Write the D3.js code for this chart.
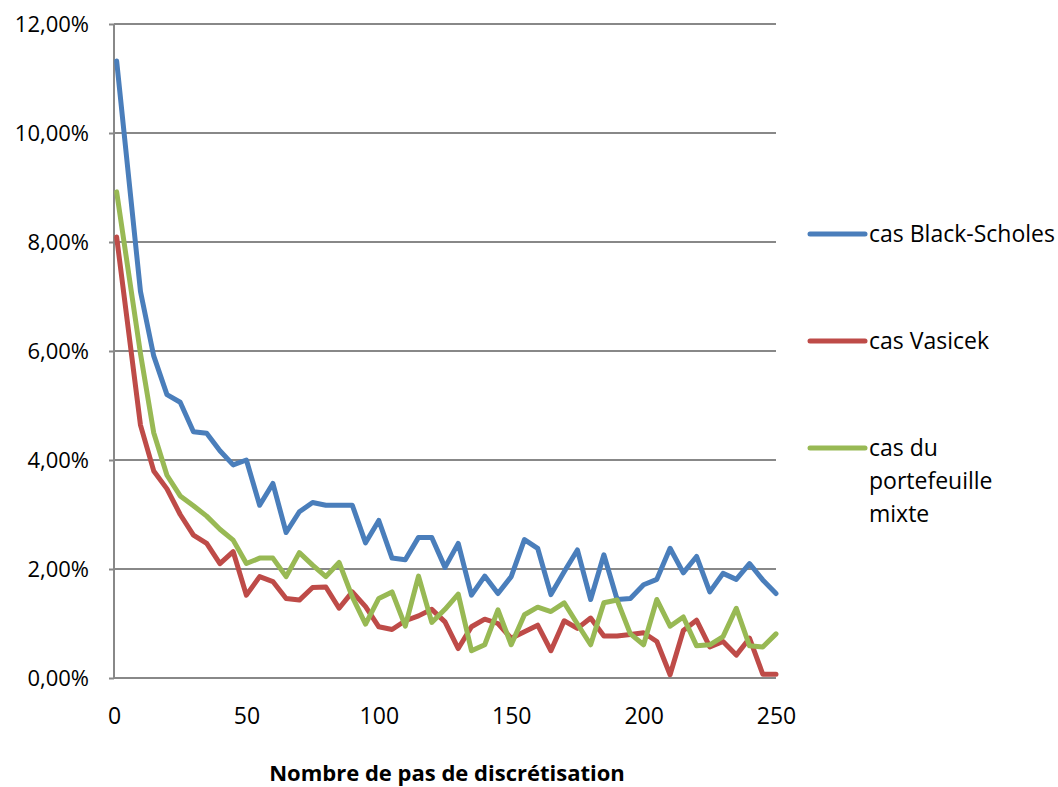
<!doctype html>
<html lang="fr">
<head>
	<meta charset="UTF-8">
	<title>Nombre de pas de discrétisation</title>
	<script src="https://cdn.jsdelivr.net/npm/d3@7"></script>
	<style>
		body { margin: 0; background: #fff; }
		text { font-family: "Open Sans", sans-serif; fill: #000; }
	</style>
</head>
<body>
<div id="container"></div>
<script>
	var width = 1058, height = 787;

	// pas de discrétisation (axe x)
	var steps = [1, 10, 15, 20, 25, 30, 35, 40, 45, 50,
		55, 60, 65, 70, 75, 80, 85, 90, 95, 100,
		105, 110, 115, 120, 125, 130, 135, 140, 145, 150,
		155, 160, 165, 170, 175, 180, 185, 190, 195, 200,
		205, 210, 215, 220, 225, 230, 235, 240, 245, 250];

	// erreurs en %
	var blackScholes = [11.32, 7.09, 5.91, 5.20, 5.06, 4.52, 4.49, 4.17, 3.91, 4.00,
		3.17, 3.57, 2.67, 3.05, 3.22, 3.17, 3.17, 3.17, 2.48, 2.89,
		2.20, 2.17, 2.58, 2.58, 2.03, 2.47, 1.52, 1.87, 1.55, 1.86,
		2.54, 2.38, 1.53, 1.95, 2.35, 1.44, 2.26, 1.44, 1.46, 1.71,
		1.81, 2.38, 1.93, 2.23, 1.58, 1.92, 1.81, 2.10, 1.80, 1.55];
	var vasicek = [8.09, 4.64, 3.80, 3.47, 3.00, 2.62, 2.47, 2.10, 2.32, 1.52,
		1.86, 1.77, 1.46, 1.43, 1.66, 1.67, 1.28, 1.58, 1.31, 0.94,
		0.89, 1.05, 1.14, 1.26, 1.03, 0.54, 0.94, 1.08, 1.00, 0.73,
		0.85, 0.97, 0.50, 1.05, 0.91, 1.10, 0.77, 0.77, 0.80, 0.83,
		0.67, 0.06, 0.87, 1.06, 0.57, 0.67, 0.42, 0.73, 0.07, 0.07];
	var mixte = [8.92, 5.95, 4.50, 3.72, 3.34, 3.16, 2.97, 2.73, 2.53, 2.10,
		2.20, 2.20, 1.86, 2.30, 2.07, 1.86, 2.12, 1.49, 0.99, 1.46,
		1.58, 0.95, 1.87, 1.02, 1.26, 1.54, 0.50, 0.61, 1.25, 0.61,
		1.16, 1.30, 1.22, 1.38, 0.99, 0.61, 1.38, 1.43, 0.81, 0.61,
		1.44, 0.95, 1.12, 0.59, 0.61, 0.76, 1.28, 0.59, 0.57, 0.81];

	var seriesNames = ["cas Black-Scholes", "cas Vasicek", "cas du portefeuille mixte"];
	var seriesColors = ["#4a7ebb", "#be4b48", "#98b954"];
	var xTicks = [0, 50, 100, 150, 200, 250];
	var yTicks = [0, 2, 4, 6, 8, 10, 12];
	var xTitle = "Nombre de pas de discrétisation";

	var series = [blackScholes, vasicek, mixte];

	var margin = {left: 114, top: 24, right: 282, bottom: 109};
	var g_width = width - margin.left - margin.right;
	var g_height = height - margin.top - margin.bottom;

	var fr = d3.formatLocale({decimal: ",", thousands: " ", grouping: [3], currency: ["", " €"]});
	var fmtPct = function (d) { return fr.format(".2f")(d) + "%"; };

	var scale_x = d3.scaleLinear().domain([0, 250]).range([0, g_width]);
	var scale_y = d3.scaleLinear().domain([0, 12]).range([g_height, 0]);

	var svg = d3.select("#container").append("svg")
			.attr("width", width)
			.attr("height", height);

	var g = svg.append("g")
			.attr("transform", "translate(" + margin.left + "," + margin.top + ")");

	// quadrillage horizontal
	g.append("g")
			.selectAll("line")
			.data(yTicks.filter(function (d) { return d > 0; }))
			.enter().append("line")
			.attr("x1", 0)
			.attr("x2", g_width)
			.attr("y1", function (d) { return scale_y(d); })
			.attr("y2", function (d) { return scale_y(d); })
			.attr("stroke", "#888")
			.attr("stroke-width", 2);

	// axe y
	var y_axis = d3.axisLeft(scale_y).tickValues(yTicks).tickFormat(fmtPct).tickSize(5).tickPadding(20);
	var gy = g.append("g").call(y_axis);
	gy.select(".domain").attr("stroke", "#888").attr("stroke-width", 2).attr("d", "M0,0V" + g_height);
	gy.selectAll(".tick line").attr("stroke", "#888").attr("stroke-width", 2);
	gy.selectAll(".tick text").style("font-size", "22px").attr("dy", "0.36em");

	// axe x
	var x_axis = d3.axisBottom(scale_x).tickValues(xTicks).tickSize(0).tickPadding(30);
	var gx = g.append("g").attr("transform", "translate(0," + g_height + ")").call(x_axis);
	gx.select(".domain").attr("stroke", "#888").attr("stroke-width", 2).attr("d", "M-1,0H" + g_width);
	gx.selectAll(".tick text").style("font-size", "23px");

	g.append("text")
			.attr("x", scale_x(125) + 2)
			.attr("y", g_height + 103)
			.attr("text-anchor", "middle")
			.style("font-size", "22px")
			.style("font-weight", "bold")
			.text(xTitle);

	// courbes
	var line_generator = d3.line()
			.x(function (d, i) { return scale_x(steps[i]); })
			.y(function (d) { return scale_y(d); });

	g.selectAll(".serie")
			.data(series)
			.enter().append("path")
			.attr("class", "serie")
			.attr("d", function (d) { return line_generator(d); })
			.attr("fill", "none")
			.attr("stroke", function (d, i) { return seriesColors[i]; })
			.attr("stroke-width", 5)
			.attr("stroke-linejoin", "round")
			.attr("stroke-linecap", "round");

	// légende
	var legendY = [234, 341, 448];
	var legendLines = [["cas Black-Scholes"], ["cas Vasicek"], ["cas du", "portefeuille", "mixte"]];
	var legend = svg.append("g");
	seriesNames.forEach(function (name, i) {
		var item = legend.append("g").attr("transform", "translate(810," + legendY[i] + ")");
		item.append("line")
				.attr("x1", 0).attr("x2", 55)
				.attr("stroke", seriesColors[i])
				.attr("stroke-width", 5)
				.attr("stroke-linecap", "round");
		item.append("text")
				.style("font-size", "23px")
				.selectAll("tspan")
				.data(legendLines[i])
				.enter().append("tspan")
				.attr("x", 59)
				.attr("dy", function (d, j) { return j === 0 ? "0.36em" : 33; })
				.text(function (d) { return d; });
	});
</script>
</body>
</html>
